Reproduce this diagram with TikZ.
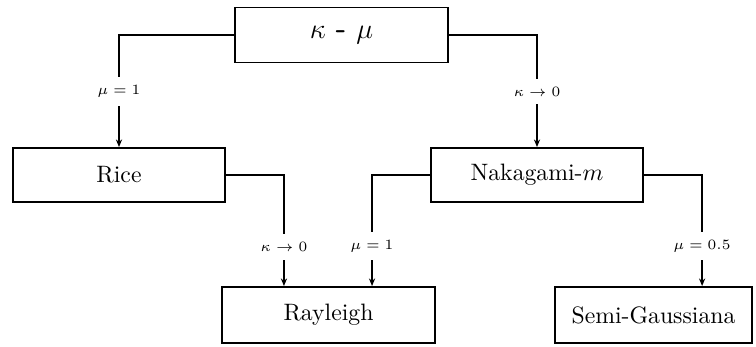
\documentclass[tikz,border=0pt]{standalone}
\usetikzlibrary{arrows.meta}
\begin{document}
\begin{tikzpicture}[x=0.01482cm,y=-0.01482cm,
  box/.style={draw,line width=0.8pt,minimum width=3.14cm,minimum height=0.80cm,inner sep=0pt},
  conn/.style={line width=0.8pt,-{Stealth[length=3.2pt,width=2.6pt]}},
  lab/.style={fill=white,font=\fontsize{6.5}{8}\selectfont,inner xsep=1pt,inner ysep=3.5pt}]
\useasboundingbox (0,0) rectangle (756,347);
\node[box,minimum width=3.157cm,minimum height=0.815cm] (km) at (341.5,35) {\fontsize{12.5}{15}\selectfont $\kappa$ \textsf{\textbf{-}} $\mu$};
\node[box] (rice) at (119,175) {Rice};
\node[box] (naka) at (537,175) {Nakagami-$m$};
\node[box,minimum width=3.157cm,minimum height=0.83cm] (ray) at (328.5,315) {Rayleigh};
\node[box,minimum width=2.92cm,minimum height=0.83cm] (semi) at (653.5,315) {Semi-Gaussiana};
\draw[conn] (km.west) -| node[lab,pos=0.752] {$\mu=1$} (rice.north);
\draw[conn] (km.east) -| node[lab,pos=0.752] {$\kappa\rightarrow 0$} (naka.north);
\draw[conn] (rice.east) -| node[lab,pos=0.823] {$\kappa\rightarrow 0$} ([xshift=-0.66cm]ray.north);
\draw[conn] (naka.west) -| node[lab,pos=0.82] {$\mu=1$} ([xshift=0.645cm]ray.north);
\draw[conn] (naka.east) -| node[lab,pos=0.82] {$\mu=0.5$} ([xshift=0.72cm]semi.north);
\end{tikzpicture}
\end{document}
